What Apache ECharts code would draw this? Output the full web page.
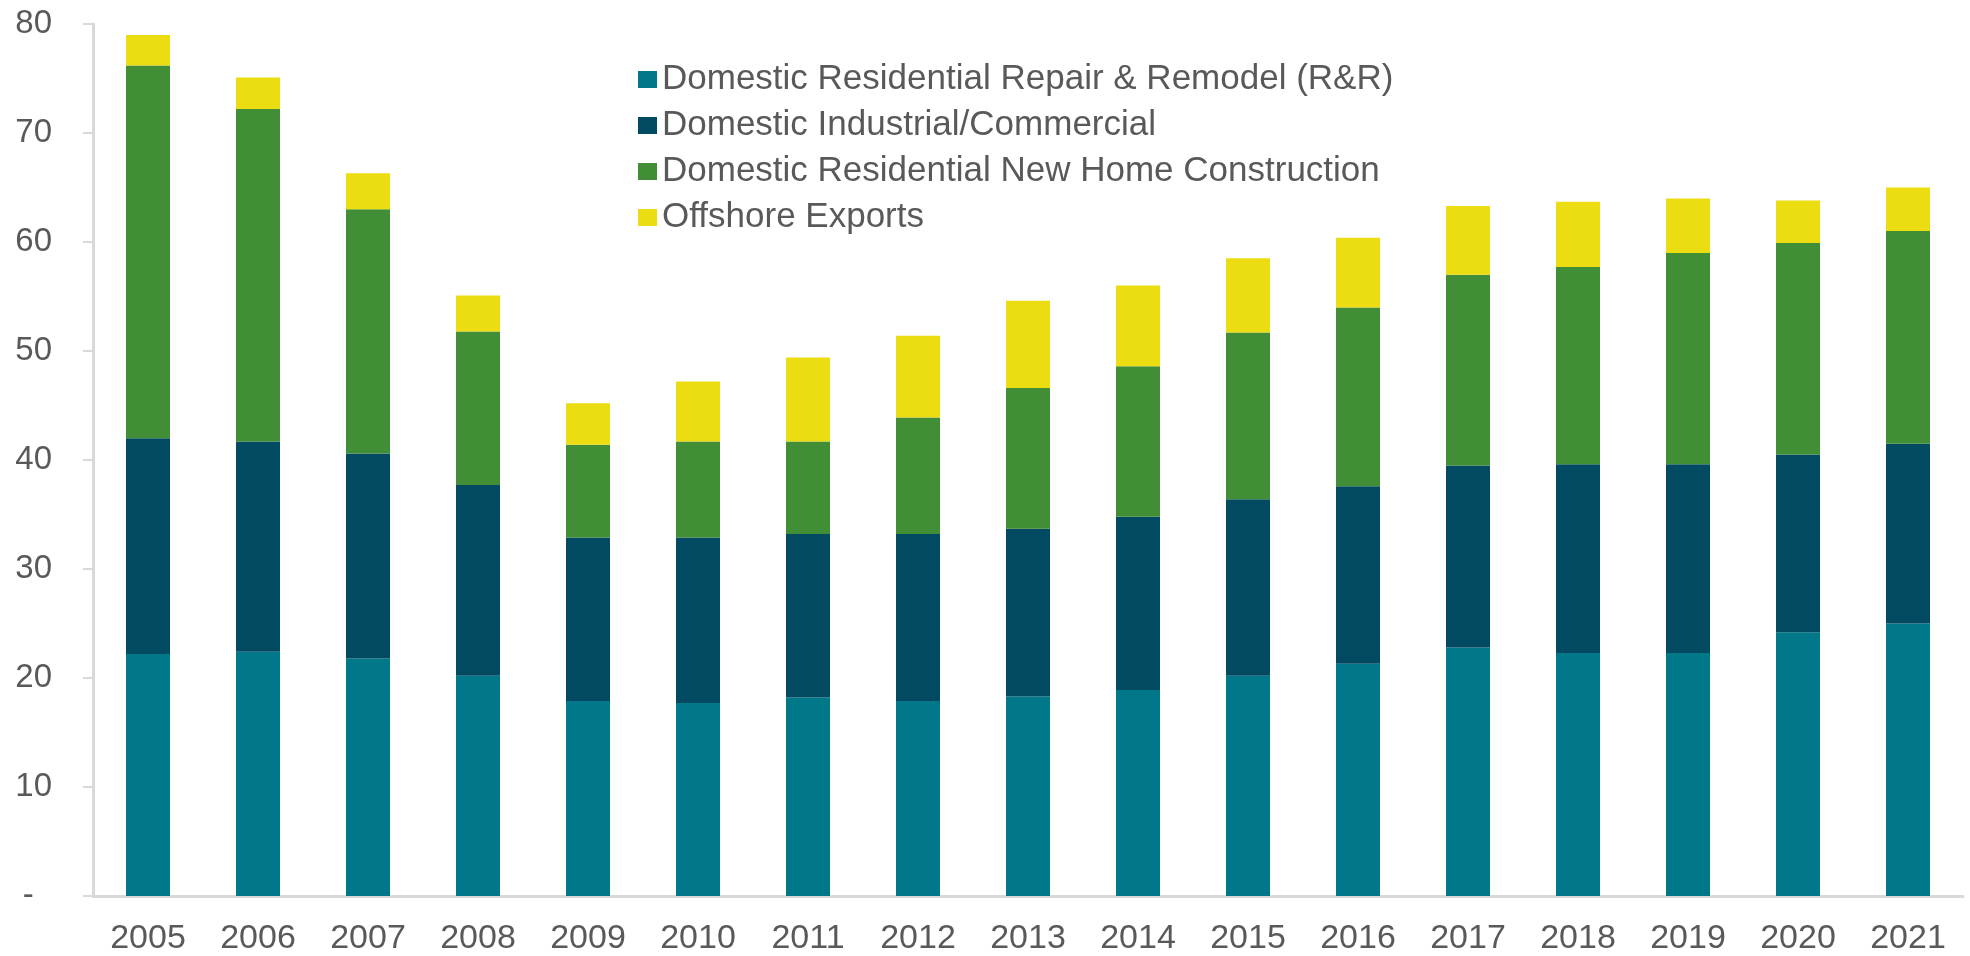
<!DOCTYPE html>
<html>
<head>
<meta charset="utf-8">
<script src="https://cdn.jsdelivr.net/npm/echarts@6/dist/echarts.min.js"></script>
<style>
  html, body { margin: 0; padding: 0; background: #fff; }
  #main { width: 1970px; height: 956px; }
</style>
</head>
<body>
<div id="main"></div>
<script>
// Years on the x axis
const years = ["2005", "2006", "2007", "2008", "2009", "2010", "2011", "2012", "2013",
  "2014", "2015", "2016", "2017", "2018", "2019", "2020", "2021"];

// Stacked segment values
const repairRemodel = [22.2, 22.4, 21.8, 20.2, 17.9, 17.7, 18.2, 17.9, 18.3, 18.9, 20.2, 21.3, 22.8, 22.3, 22.3, 24.2, 25.0];
const industrialCommercial = [19.8, 19.3, 18.8, 17.5, 15.0, 15.2, 15.0, 15.3, 15.4, 15.9, 16.2, 16.3, 16.7, 17.3, 17.3, 16.3, 16.5];
const newHomeConstruction = [34.2, 30.5, 22.4, 14.1, 8.5, 8.8, 8.5, 10.7, 12.9, 13.8, 15.3, 16.4, 17.5, 18.1, 19.4, 19.4, 19.5];
const offshoreExports = [2.8, 2.9, 3.3, 3.3, 3.8, 5.5, 7.7, 7.5, 8.0, 7.4, 6.8, 6.4, 6.3, 6.0, 5.0, 3.9, 4.0];

const seriesNames = [
  "Domestic Residential Repair & Remodel (R&R)",
  "Domestic Industrial/Commercial",
  "Domestic Residential New Home Construction",
  "Offshore Exports"
];
const seriesColors = ["#00788a", "#024a62", "#428e37", "#ecdd13"];

const textColor = "#595959";
const fontFamily = "'Liberation Sans', Arial, sans-serif";

function barSeries(name, data, color) {
  return {
    name: name,
    type: "bar",
    stack: "total",
    data: data,
    barWidth: 44,
    itemStyle: { color: color },
    emphasis: { disabled: true }
  };
}

const chart = echarts.init(document.getElementById("main"));
chart.setOption({
  animation: false,
  textStyle: { fontFamily: fontFamily },
  color: seriesColors,
  legend: {
    data: seriesNames,
    orient: "vertical",
    left: 633,
    top: 56,
    icon: "rect",
    itemWidth: 19,
    itemHeight: 17,
    itemGap: 9,
    textStyle: { fontSize: 35, color: textColor, lineHeight: 37, fontFamily: fontFamily }
  },
  grid: {
    left: 93,
    right: 7,
    top: 24,
    bottom: 59,
    containLabel: false
  },
  xAxis: {
    type: "category",
    data: years,
    axisLine: { lineStyle: { color: "#d9d9d9", width: 3 } },
    axisTick: { show: false },
    axisLabel: { color: textColor, fontSize: 34, margin: 26, fontFamily: fontFamily }
  },
  yAxis: {
    type: "value",
    min: 0,
    max: 80,
    interval: 10,
    axisLine: { show: true, lineStyle: { color: "#d9d9d9", width: 3 } },
    axisTick: { show: true, length: 10, lineStyle: { color: "#d9d9d9", width: 2 } },
    splitLine: { show: false },
    axisLabel: {
      color: textColor,
      fontSize: 33,
      margin: 41,
      fontFamily: fontFamily,
      formatter: function (v) { return v === 0 ? "-  " : String(v); }
    }
  },
  series: [
    barSeries(seriesNames[0], repairRemodel, seriesColors[0]),
    barSeries(seriesNames[1], industrialCommercial, seriesColors[1]),
    barSeries(seriesNames[2], newHomeConstruction, seriesColors[2]),
    barSeries(seriesNames[3], offshoreExports, seriesColors[3])
  ]
});
</script>
</body>
</html>
